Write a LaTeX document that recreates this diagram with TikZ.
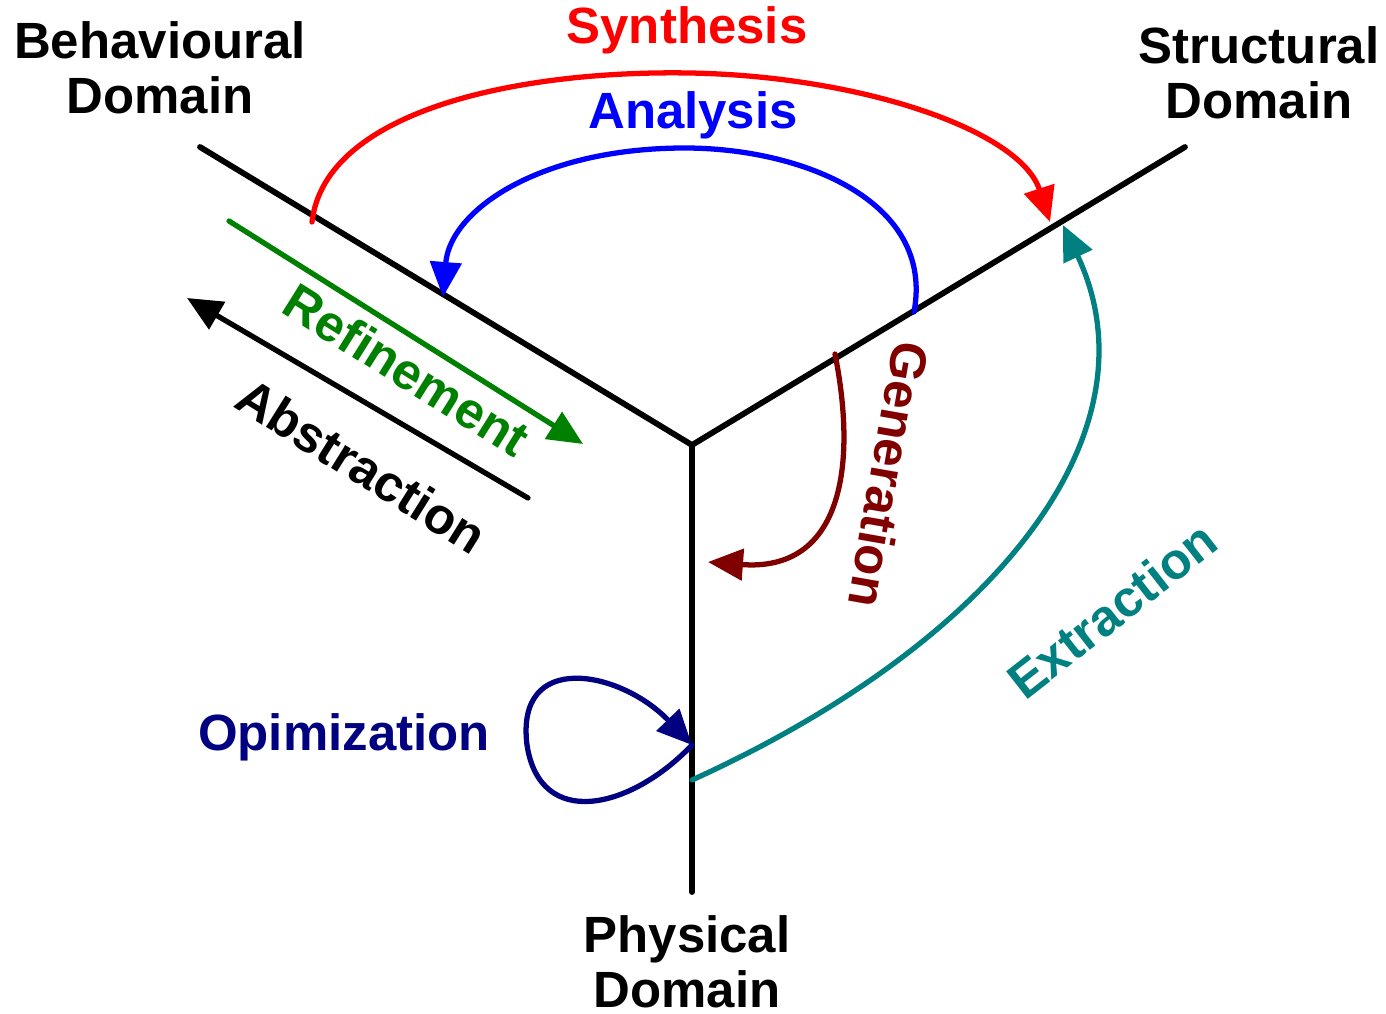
\documentclass[tikz,border=0pt]{standalone}
\usepackage{fontspec}
\setmainfont{Liberation Sans}
\usetikzlibrary{arrows.meta}
\definecolor{synred}{RGB}{255,0,0}
\definecolor{anablue}{RGB}{0,0,255}
\definecolor{refgreen}{RGB}{0,128,0}
\definecolor{genred}{RGB}{128,0,0}
\definecolor{exteal}{RGB}{0,128,128}
\definecolor{optnavy}{RGB}{0,0,128}
\begin{document}
\begin{tikzpicture}[x=0.02cm,y=-0.02cm,
  axis/.style={line width=3.3pt,line cap=round,black},
  flow/.style={line width=3pt,line cap=round,-{Triangle[length=0.7cm,width=0.62cm]}},
  lbl/.style={font=\fontsize{29}{31.5}\selectfont\bfseries,align=center,inner sep=0pt}]
\useasboundingbox (0,0) rectangle (1386,1014);

% axes of the Y-chart
\coordinate (O) at (692,445);
\coordinate (B) at (200,147);
\coordinate (S) at (1185,147);
\coordinate (P) at (692,892);
\draw[axis] (B) -- (O) -- (S);
\draw[axis] (O) -- (P);

% domain labels
\node[lbl] (behav) at (160,68) {Behavioural\\Domain};
\node[lbl] (struct) at (1259,73) {Structural\\Domain};
\node[lbl] (phys) at (687,962) {Physical\\Domain};

% refinement / abstraction
\coordinate (r1) at (229,221);
\coordinate (r2) at (583,444);
\coordinate (a1) at (528,498);
\coordinate (a2) at (187,298);
\draw[flow,refgreen] (r1) -- (r2);
\draw[flow,black] (a1) -- (a2);
\node[lbl,refgreen,rotate=-32] (refine) at (407,370) {Refinement};
\node[lbl,black,rotate=-32] (abstr) at (362,466) {Abstraction};

% synthesis
\coordinate (sy0) at (312,222);
\coordinate (sy1) at (690,73);
\coordinate (sy2) at (1050,222);
\draw[flow,synred] (sy0) .. controls (325,110) and (520,70) .. (sy1)
  .. controls (860,76) and (1020,130) .. (sy2);
\node[lbl,synred] (synth) at (687,30) {Synthesis};

% analysis
\coordinate (an0) at (914,312);
\coordinate (an1) at (685,148);
\coordinate (an2) at (443,297);
\draw[flow,anablue] (an0) .. controls (935,200) and (800,148) .. (an1)
  .. controls (540,148) and (450,210) .. (an2);
\node[lbl,anablue] (anal) at (693,115) {Analysis};

% generation
\coordinate (ge0) at (835,354);
\coordinate (ge1) at (708,562);
\draw[flow,genred] (ge0) .. controls (858,470) and (840,572) .. (ge1);
\node[lbl,genred,rotate=-100] (gener) at (889,475) {Generation};

% extraction
\coordinate (ex0) at (692,780);
\coordinate (ex1) at (1063,225);
\draw[flow,exteal] (ex0) .. controls (1000,640) and (1160,430) .. (ex1);
\node[lbl,exteal,rotate=38] (extr) at (1112,610) {Extraction};

% optimization loop
\coordinate (op0) at (692,745);
\coordinate (op1) at (527,745);
\draw[flow,optnavy] (op0) .. controls (630,810) and (540,830) .. (op1)
  .. controls (515,650) and (620,670) .. (op0);
\node[lbl,optnavy] (optim) at (344,737) {Opimization};
\end{tikzpicture}
\end{document}
